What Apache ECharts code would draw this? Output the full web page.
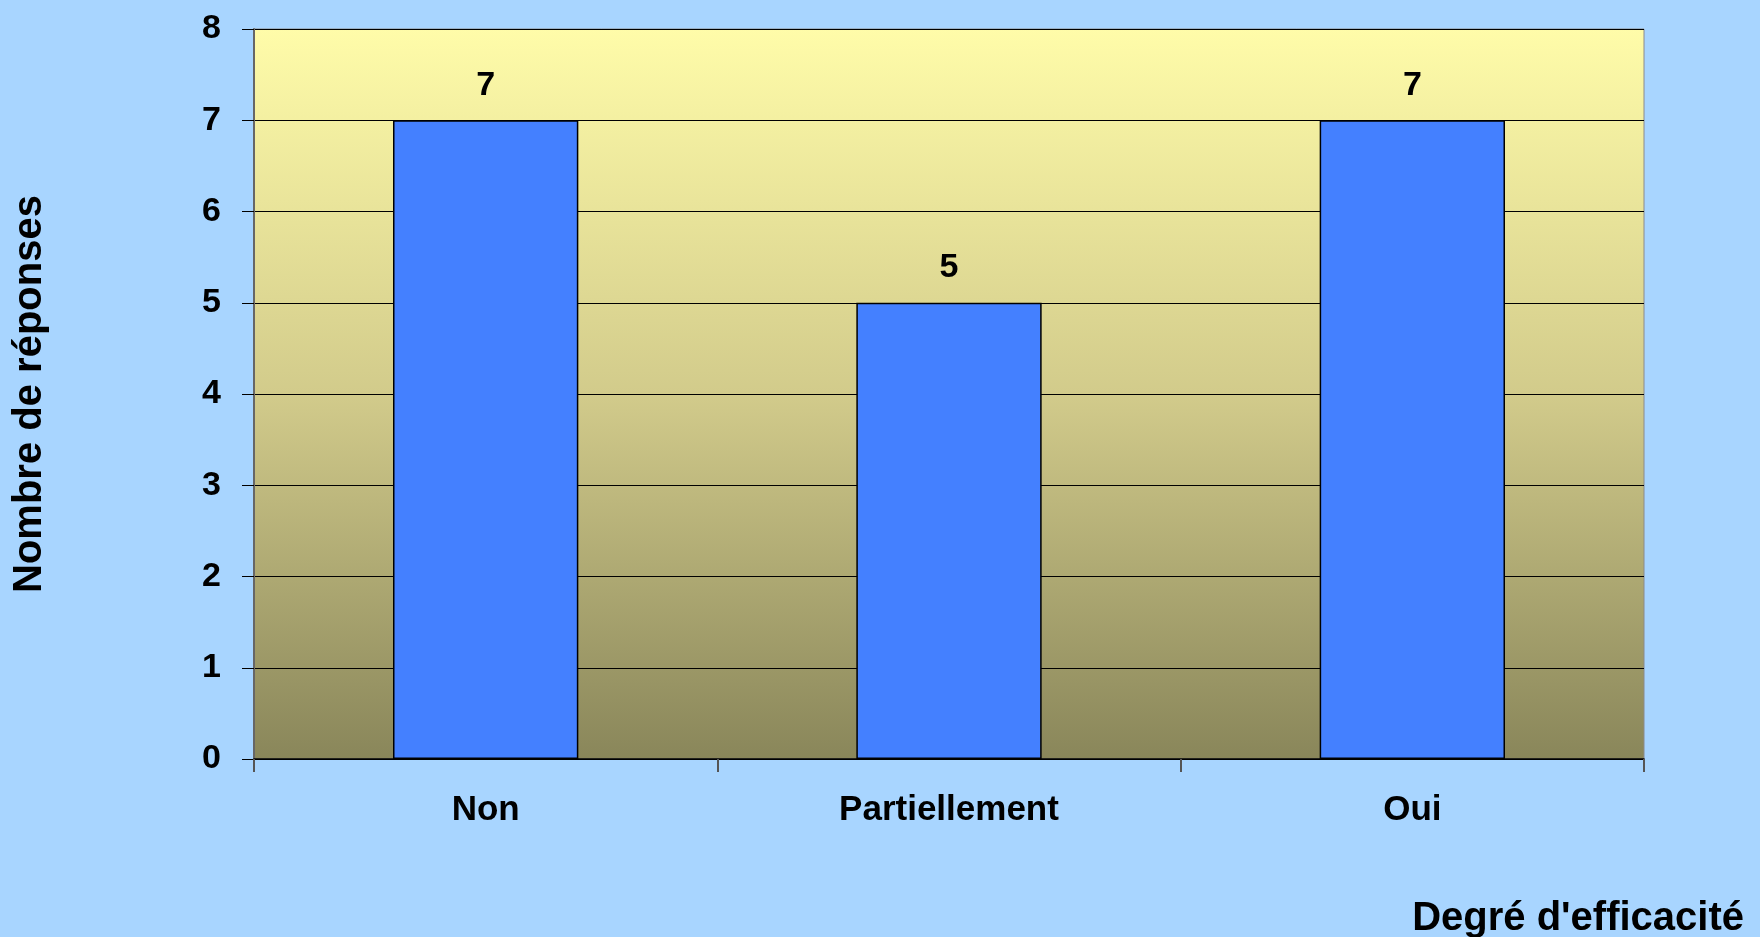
<!DOCTYPE html>
<html>
<head>
<meta charset="utf-8">
<script src="https://cdn.jsdelivr.net/npm/echarts@6/dist/echarts.min.js"></script>
<style>
html,body{margin:0;padding:0;background:#A8D5FF;}
#c{width:1760px;height:937px;}
</style>
</head>
<body>
<div id="c"></div>
<script>
const categories = ['Non', 'Partiellement', 'Oui'];
const values = [7, 5, 7];
const yTicks = { min: 0, max: 8, interval: 1 };
const xTitle = "Degré d'efficacité";
const yTitle = 'Nombre de réponses';

const FONT = '"Liberation Sans", Arial, sans-serif';
const chart = echarts.init(document.getElementById('c'));
chart.setOption({
  backgroundColor: '#A8D5FF',
  animation: false,
  grid: {
    left: 254, right: 116, top: 29, bottom: 178,
    show: true,
    borderColor: '#8a8a8a', borderWidth: 1,
    backgroundColor: new echarts.graphic.LinearGradient(0, 0, 0, 1, [
      { offset: 0, color: '#FFFCA9' },
      { offset: 0.5, color: '#D2CB8B' },
      { offset: 1, color: '#89865A' }
    ])
  },
  xAxis: {
    type: 'category',
    data: categories,
    axisLine: { lineStyle: { color: '#000', width: 1.5 } },
    axisTick: { show: true, length: 13, lineStyle: { color: '#555', width: 2 } },
    axisLabel: { color: '#000', fontFamily: FONT, fontWeight: 'bold', fontSize: 35, margin: 34 },
    splitLine: { show: false }
  },
  yAxis: {
    type: 'value',
    min: yTicks.min, max: yTicks.max, interval: yTicks.interval,
    name: yTitle,
    nameLocation: 'middle',
    nameGap: 204,
    nameTextStyle: { color: '#000', fontFamily: FONT, fontWeight: 'bold', fontSize: 40 },
    axisLine: { show: true, lineStyle: { color: '#666', width: 2 } },
    axisTick: { show: true, length: 12, lineStyle: { color: '#000', width: 1 } },
    axisLabel: { color: '#000', fontFamily: FONT, fontWeight: 'bold', fontSize: 34, margin: 33 },
    splitLine: { show: true, lineStyle: { color: '#000', width: 1.2 } }
  },
  graphic: [{
    type: 'text',
    right: 16,
    top: 899,
    style: { text: xTitle, fill: '#000', font: 'bold 40px ' + FONT }
  }],
  series: [{
    type: 'bar',
    data: values,
    barWidth: '40%',
    itemStyle: { color: '#4480FF', borderColor: '#000', borderWidth: 1.5 },
    label: {
      show: true, position: 'top', distance: 18,
      color: '#000', fontFamily: FONT, fontWeight: 'bold', fontSize: 34
    }
  }]
});
</script>
</body>
</html>
